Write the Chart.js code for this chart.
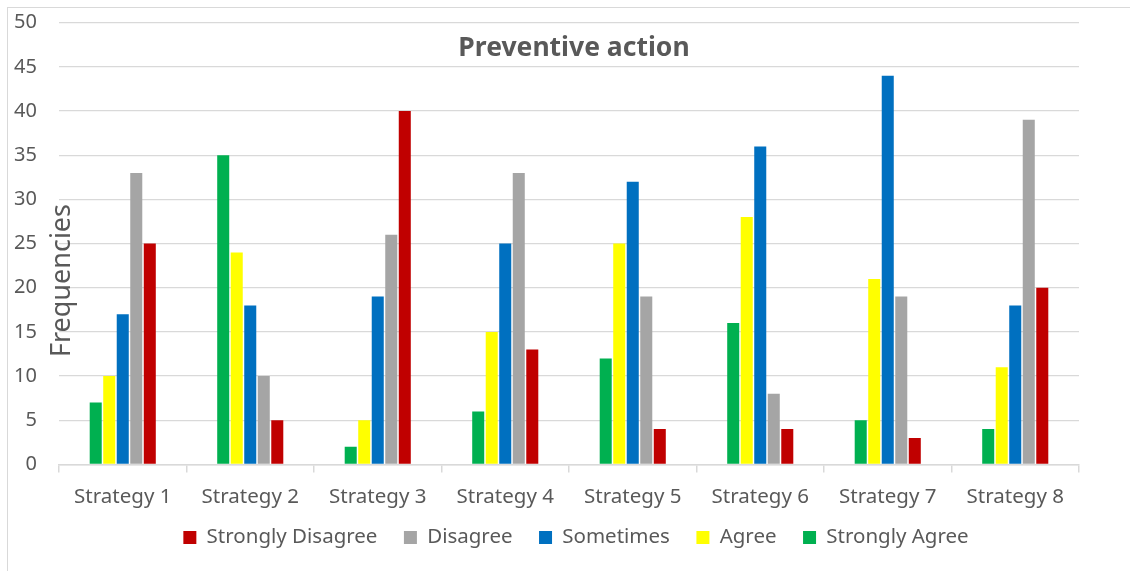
<!DOCTYPE html>
<html>
<head>
<meta charset="utf-8">
<title>Preventive action</title>
<script src="https://cdn.jsdelivr.net/npm/chart.js@4"></script>
<style>
  html, body { margin: 0; padding: 0; background: #fff; overflow: hidden; }
  #wrap { position: relative; width: 1130px; height: 571px; }
  #frame { position: absolute; left: 7px; top: 7px; width: 1200px; height: 700px;
           border-left: 1.5px solid #d9d9d9; border-top: 1.5px solid #d9d9d9; }
  canvas { position: absolute; left: 0; top: 0; }
</style>
</head>
<body>
<div id="wrap">
  <div id="frame"></div>
  <canvas id="chart" width="1130" height="571"></canvas>
</div>
<script>
// Categories and response counts per strategy
const categories = ['Strategy 1', 'Strategy 2', 'Strategy 3', 'Strategy 4',
                    'Strategy 5', 'Strategy 6', 'Strategy 7', 'Strategy 8'];
const stronglyAgree    = [7, 35, 2, 6, 12, 16, 5, 4];
const agree            = [10, 24, 5, 15, 25, 28, 21, 11];
const sometimes        = [17, 18, 19, 25, 32, 36, 44, 18];
const disagree         = [33, 10, 26, 33, 19, 8, 19, 39];
const stronglyDisagree = [25, 5, 40, 13, 4, 4, 3, 20];
const yTicks = [0, 5, 10, 15, 20, 25, 30, 35, 40, 45, 50];

const TEXT = '#595959';
const GRID = '#d9d9d9';
const FONT = '"Noto Sans", "Open Sans", sans-serif';
const LEGEND_FONT = 20.5;

// Chart title overlays the plot area, and the axis title sits beside the tick labels
const overlayText = {
  id: 'overlayText',
  afterDraw(chart) {
    const ctx = chart.ctx;
    const a = chart.chartArea;
    ctx.save();
    ctx.fillStyle = TEXT;
    ctx.textAlign = 'center';
    ctx.textBaseline = 'middle';
    ctx.font = 'bold 26.5px ' + FONT;
    ctx.fillText('Preventive action', (a.left + a.right) / 2 + 5, a.top + 26);
    ctx.translate(a.left + 3, (a.top + a.bottom) / 2 + 37);
    ctx.rotate(-Math.PI / 2);
    ctx.font = '27px ' + FONT;
    ctx.fillText('Frequencies', 0, 0);
    ctx.restore();
  }
};

// Pull the legend row up close under the category labels
const legendPlacement = {
  id: 'legendPlacement',
  afterLayout(chart) {
    const lg = chart.legend;
    const a = chart.chartArea;
    const pad = lg.options.labels.padding;
    const dy = (a.bottom + 73) - (lg.top + pad + LEGEND_FONT / 2);
    const dx = 7;
    lg.top += dy; lg.bottom += dy;
    lg.left += dx; lg.right += dx;
  }
};

const mk = (label, data, color) => ({
  label, data, backgroundColor: color, borderWidth: 0,
  categoryPercentage: 0.53, barPercentage: 0.89
});

new Chart(document.getElementById('chart'), {
  type: 'bar',
  data: {
    labels: categories,
    datasets: [
      mk('Strongly Agree', stronglyAgree, '#00B050'),
      mk('Agree', agree, '#FFFF00'),
      mk('Sometimes', sometimes, '#0070C0'),
      mk('Disagree', disagree, '#A5A5A5'),
      mk('Strongly Disagree', stronglyDisagree, '#C00000')
    ]
  },
  options: {
    responsive: false,
    animation: false,
    layout: { padding: { left: 12, right: 51, top: 22.7, bottom: 4.5 } },
    plugins: {
      title: { display: false },
      tooltip: { enabled: false },
      legend: {
        position: 'bottom',
        fullSize: false,
        reverse: true,
        labels: {
          boxWidth: 13, boxHeight: 13, padding: 26.5,
          color: TEXT, font: { family: FONT, size: LEGEND_FONT }
        }
      }
    },
    scales: {
      x: {
        grid: { display: true, drawOnChartArea: false, drawTicks: true,
                tickLength: 20.5, tickBorderDash: [7, 100], offset: true,
                color: GRID, lineWidth: 1.5 },
        border: { display: true, color: GRID, width: 1.5 },
        ticks: { color: TEXT, font: { family: FONT, size: 20.5 }, padding: 0 }
      },
      y: {
        min: 0, max: 50,
        afterFit(scale) { scale.width = 47; },
        afterBuildTicks(scale) { scale.ticks = yTicks.map(v => ({ value: v })); },
        grid: { color: GRID, lineWidth: 1.3, drawTicks: true, tickLength: 20,
                tickColor: 'rgba(0,0,0,0)' },
        border: { display: false },
        ticks: { color: TEXT, font: { family: FONT, size: 20 }, padding: 2 }
      }
    }
  },
  plugins: [overlayText, legendPlacement]
});
</script>
</body>
</html>
